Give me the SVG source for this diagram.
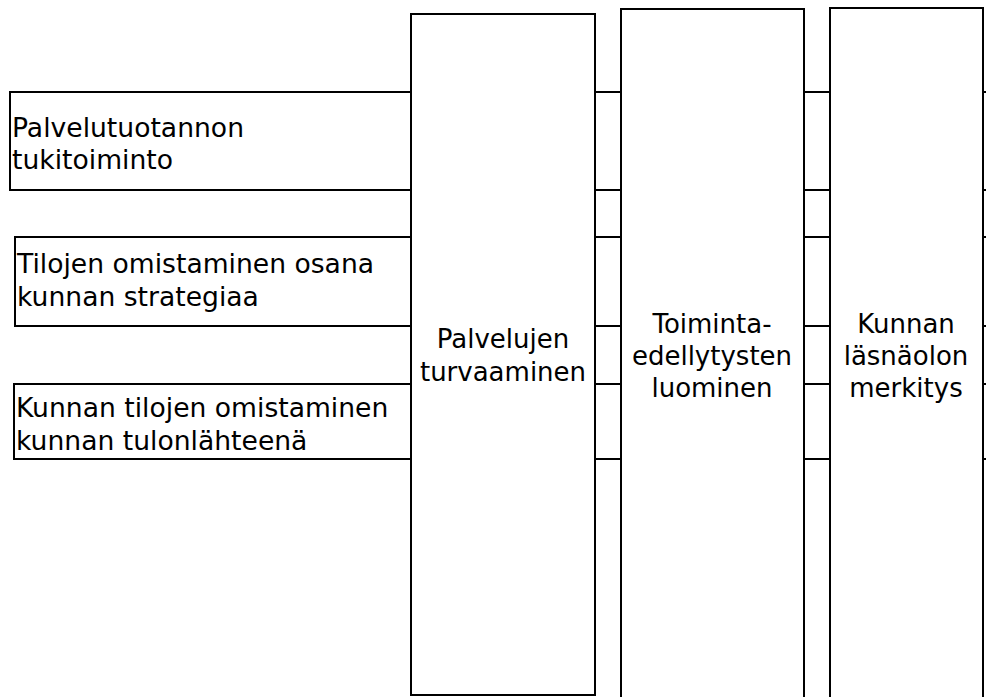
<svg xmlns="http://www.w3.org/2000/svg" width="986" height="697" viewBox="0 0 986 697">
<style>
.b{fill:#fff;stroke:#000;stroke-width:2}
.c{stroke:#000;stroke-width:2;fill:none}
text{font-family:"DejaVu Sans","Verdana",sans-serif;font-size:26px;fill:#000}
.l{font-size:26.6px}
.m{text-anchor:middle}
</style>
<rect width="986" height="697" fill="#fff"/>
<g id="connectors">
<path class="c" d="M595 92H621M595 190H621M595 237H621M595 326H621M595 384H621M595 459H621"/>
<path class="c" d="M804 92H830M804 190H830M804 237H830M804 326H830M804 384H830M804 459H830"/>
<path class="c" d="M983 92H986M983 190H986M983 237H986M983 326H986M983 384H986M983 459H986"/>
</g>
<g id="n1">
<path class="b" d="M411 92H10V190H411"/>
<text class="l" x="12" y="137">Palvelutuotannon</text>
<text class="l" x="12" y="169">tukitoiminto</text>
</g>
<g id="n2">
<path class="b" d="M411 237H15V326H411"/>
<text class="l" x="17" y="273">Tilojen omistaminen osana</text>
<text class="l" x="17" y="306">kunnan strategiaa</text>
</g>
<g id="n3">
<path class="b" d="M411 384H14V459H411"/>
<text class="l" x="16" y="417">Kunnan tilojen omistaminen</text>
<text class="l" x="16" y="450">kunnan tulonlähteenä</text>
</g>
<g id="c1">
<rect class="b" x="411" y="14" width="184" height="681"/>
<text class="m" x="503" y="348">Palvelujen</text>
<text class="m" x="503" y="381">turvaaminen</text>
</g>
<g id="c2">
<rect class="b" x="621" y="9" width="183" height="700"/>
<text class="m" x="712" y="333">Toiminta-</text>
<text class="m" x="712" y="365">edellytysten</text>
<text class="m" x="712" y="397">luominen</text>
</g>
<g id="c3">
<rect class="b" x="830" y="8" width="153" height="700"/>
<text class="m" x="906" y="333">Kunnan</text>
<text class="m" x="906" y="365">läsnäolon</text>
<text class="m" x="906" y="397">merkitys</text>
</g>
</svg>
